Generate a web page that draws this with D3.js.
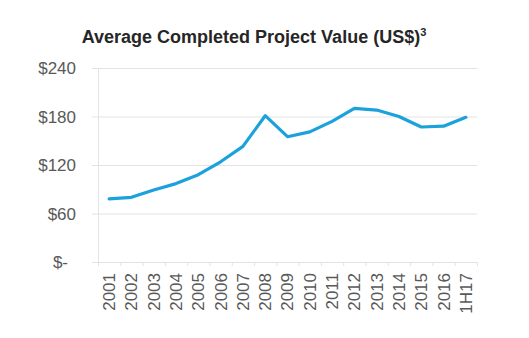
<!DOCTYPE html>
<html>
<head>
<meta charset="utf-8">
<script src="https://cdn.jsdelivr.net/npm/d3@7"></script>
<style>
  body { margin: 0; background: #fff; }
  text { font-family: "Liberation Sans", Arial, sans-serif; }
</style>
</head>
<body>
<div id="chart"></div>
<script>
// Chart data
const years = ['2001', '2002', '2003', '2004', '2005', '2006', '2007', '2008', '2009',
  '2010', '2011', '2012', '2013', '2014', '2015', '2016', '1H17'];
const avgValue = [78, 80, 89, 97, 108, 124, 143, 181, 155, 161, 174, 190, 188, 180, 167, 168, 179];
const yTicks = [0, 60, 120, 180, 240];

const width = 529, height = 338;
const margin = { top: 68, right: 52, bottom: 76, left: 98 };

const svg = d3.select('#chart')
  .append('svg')
  .attr('width', width)
  .attr('height', height);

svg.append('text')
  .attr('x', 254)
  .attr('y', 43)
  .attr('text-anchor', 'middle')
  .attr('font-size', 18)
  .attr('font-weight', 'bold')
  .attr('fill', '#262626')
  .text('Average Completed Project Value (US$)')
  .append('tspan')
  .attr('font-size', 11)
  .attr('dy', -7)
  .text('3');

const x = d3.scaleBand()
  .domain(years)
  .range([margin.left, width - margin.right]);

const y = d3.scaleLinear()
  .domain([0, 240])
  .range([height - margin.bottom, margin.top]);

// gridlines
svg.append('g')
  .selectAll('line')
  .data(yTicks.filter(d => d > 0))
  .enter().append('line')
  .attr('x1', margin.left - 6)
  .attr('x2', width - margin.right)
  .attr('y1', d => y(d) + 0.5)
  .attr('y2', d => y(d) + 0.5)
  .attr('stroke', '#e3e3e3')
  .attr('stroke-width', 1);

// y axis
const yAxis = svg.append('g')
  .attr('transform', `translate(${margin.left},0)`)
  .call(d3.axisLeft(y).tickValues(yTicks).tickSize(0).tickPadding(22)
    .tickFormat(d => d === 0 ? '$-' : '$' + d));
yAxis.select('.domain').attr('stroke', '#e3e3e3').attr('d', `M0.5,${y(240)}V${y(0)}`);
yAxis.selectAll('text')
  .attr('font-size', 17)
  .attr('fill', '#595959')
  .attr('font-family', '"Liberation Sans", Arial, sans-serif')
  .attr('dy', '0.35em')
  .attr('dx', d => d === 0 ? -8 : 0);

// x axis
const xAxis = svg.append('g')
  .attr('transform', `translate(0,${y(0)})`)
  .call(d3.axisBottom(x).tickSize(0).tickPadding(0));
xAxis.select('.domain').attr('stroke', '#e3e3e3').attr('d', `M${margin.left - 6},0.5H${width - margin.right}`);
xAxis.selectAll('.tick line').remove();
xAxis.append('g')
  .selectAll('line')
  .data(years.concat(['end']))
  .enter().append('line')
  .attr('x1', (d, i) => margin.left + i * x.bandwidth() + 0.5)
  .attr('x2', (d, i) => margin.left + i * x.bandwidth() + 0.5)
  .attr('y1', 0)
  .attr('y2', 4)
  .attr('stroke', '#e3e3e3');
xAxis.selectAll('.tick text')
  .attr('font-size', 17)
  .attr('fill', '#595959')
  .attr('font-family', '"Liberation Sans", Arial, sans-serif')
  .attr('transform', 'rotate(-90)')
  .attr('text-anchor', 'end')
  .attr('x', -11)
  .attr('y', 0)
  .attr('dy', '0.35em');

// line
const line = d3.line()
  .x((d, i) => x(years[i]) + x.bandwidth() / 2)
  .y(d => y(d));

svg.append('path')
  .datum(avgValue)
  .attr('fill', 'none')
  .attr('stroke', '#1ba1dc')
  .attr('stroke-width', 3.2)
  .attr('stroke-linejoin', 'round')
  .attr('stroke-linecap', 'round')
  .attr('d', line);
</script>
</body>
</html>
